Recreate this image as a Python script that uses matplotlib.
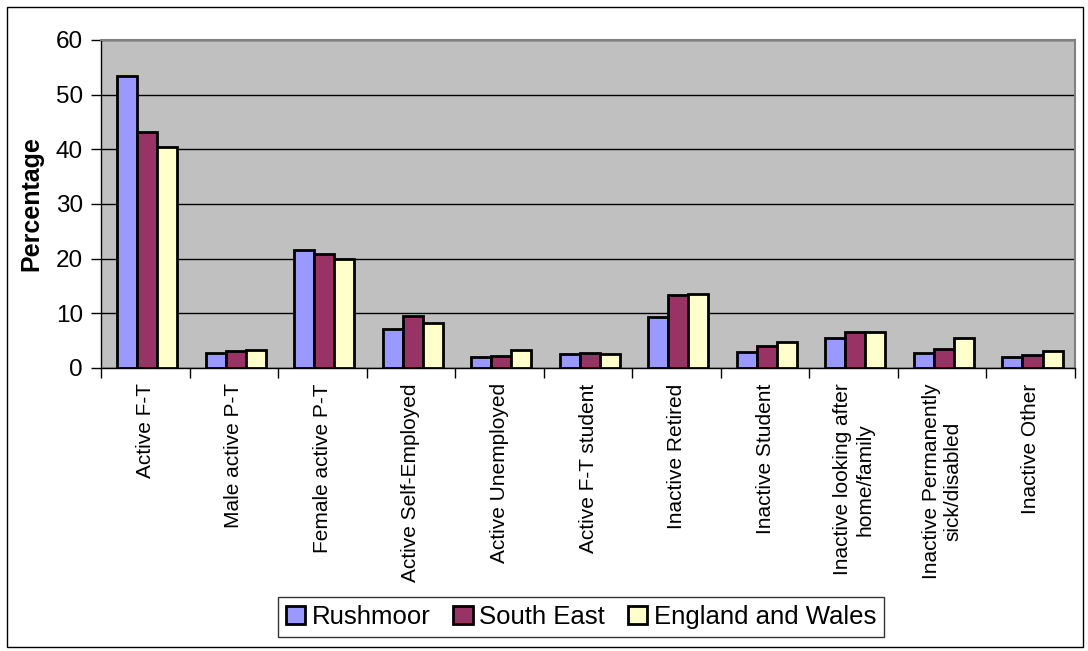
import matplotlib
matplotlib.use("Agg")
import matplotlib.pyplot as plt
import numpy as np
from matplotlib.patches import Rectangle

categories = ["Active F-T", "Male active P-T", "Female active P-T", "Active Self-Employed",
              "Active Unemployed", "Active F-T student", "Inactive Retired", "Inactive Student",
              "Inactive looking after\nhome/family", "Inactive Permanently\nsick/disabled",
              "Inactive Other"]
series_names = ["Rushmoor", "South East", "England and Wales"]
rushmoor = [53.4, 2.7, 21.6, 7.1, 2.0, 2.6, 9.4, 2.9, 5.5, 2.8, 2.0]
south_east = [43.1, 3.1, 20.8, 9.6, 2.2, 2.8, 13.4, 4.1, 6.6, 3.4, 2.4]
england_wales = [40.4, 3.3, 19.9, 8.3, 3.3, 2.6, 13.6, 4.75, 6.5, 5.5, 3.2]
yticks = [0, 10, 20, 30, 40, 50, 60]
colors = ["#9999FF", "#993366", "#FFFFCC"]

plt.rcParams['font.family'] = ['Liberation Sans', 'DejaVu Sans']

fig = plt.figure(figsize=(10.88, 6.51), dpi=100)
ax = fig.add_axes([101/1088, 1-368/651, (1075-101)/1088, (368-40)/651])
ax.set_facecolor("#C0C0C0")

x = np.arange(len(categories))
w = 0.226
for k, (vals, name) in enumerate(zip([rushmoor, south_east, england_wales], series_names)):
    ax.bar(x + (k-1)*w + 0.02, vals, width=w, color=colors[k], edgecolor="black", linewidth=2,
           label=name, zorder=3)

ax.set_xlim(-0.5, len(categories)-0.5)
ax.set_ylim(0, 60)
ax.set_yticks(yticks)
ax.set_yticklabels([str(t) for t in yticks], fontsize=17.5)
ax.yaxis.grid(True, color="black", linewidth=1, zorder=1)
ax.set_axisbelow(True)

ax.set_xticks(np.arange(-0.5, len(categories)), labels=[""]*(len(categories)+1))
ax.set_xticks(x, minor=True)
ax.set_xticklabels(categories, minor=True, rotation=90, ha='center', va='top',
                   multialignment='center', fontsize=15)
ax.tick_params(axis='x', which='major', length=7, width=1, direction='out')
ax.tick_params(axis='x', which='minor', length=0, pad=11)
ax.tick_params(axis='y', length=7, width=1, direction='out', pad=6)

for s in ['top', 'right']:
    ax.spines[s].set_color('#808080')
    ax.spines[s].set_linewidth(1.5)
for s in ['left', 'bottom']:
    ax.spines[s].set_color('black')
    ax.spines[s].set_linewidth(1)

ax.set_ylabel("Percentage", fontsize=18, fontweight='bold', labelpad=9)

leg = fig.legend(loc='center', bbox_to_anchor=(581/1088, 1-617/651), ncol=3, fontsize=18.5,
                 frameon=True, fancybox=False, edgecolor='black', handlelength=0.75,
                 handleheight=0.75, handletextpad=0.25, columnspacing=0.9, borderpad=0.3)
leg.get_frame().set_linewidth(1)

fig.patches.append(Rectangle((7/1088, 4/651), (1083-7)/1088, (647-7)/651,
                             transform=fig.transFigure, fill=False, edgecolor='black',
                             linewidth=1))

fig.savefig("out.png", dpi=100)
